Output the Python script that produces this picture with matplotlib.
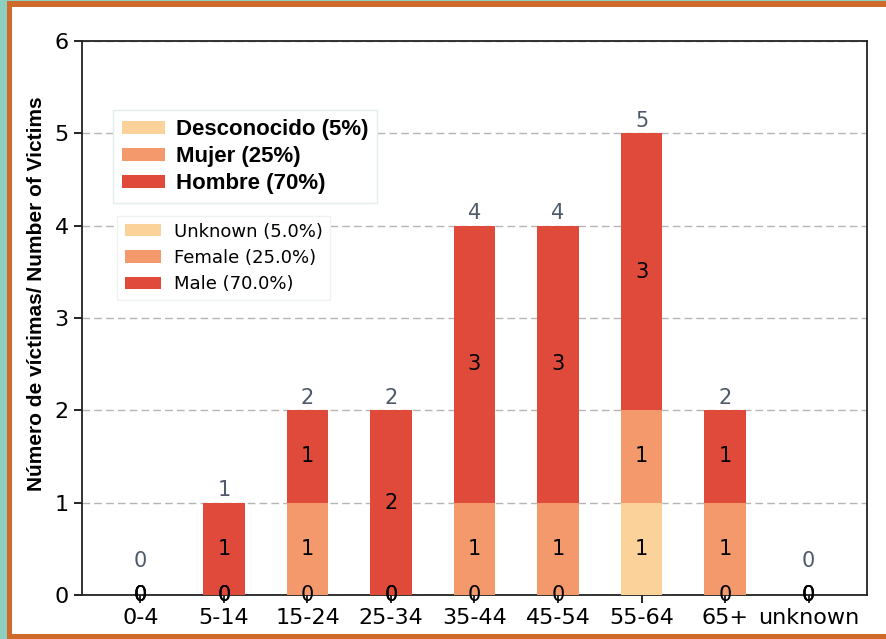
import numpy as np
import matplotlib.pyplot as plt
from matplotlib.patches import Rectangle

# Data
age_groups = ["0-4", "5-14", "15-24", "25-34", "35-44", "45-54", "55-64", "65+", "unknown"]
unknown = [0, 0, 0, 0, 0, 0, 1, 0, 0]
female = [0, 0, 1, 0, 1, 1, 1, 1, 0]
male = [0, 1, 1, 2, 3, 3, 3, 1, 0]

labels_es = ["Desconocido (5%)", "Mujer (25%)", "Hombre (70%)"]
labels_en = ["Unknown (5.0%)", "Female (25.0%)", "Male (70.0%)"]

COLORS = ["#fcd29b", "#f4996c", "#e04a3a"]

W, H = 887, 639
fig = plt.figure(figsize=(W / 100, H / 100), dpi=100, facecolor="#8dd0bf")

# orange frame + white card
fig.patches.append(Rectangle((7 / W, 0), 1, (H - 1) / H, transform=fig.transFigure,
                             facecolor="#cf6a2b", edgecolor="none", zorder=-2))
fig.patches.append(Rectangle((12.5 / W, 5 / H), 1, (H - 12) / H, transform=fig.transFigure,
                             facecolor="white", edgecolor="none", zorder=-1))

ax = fig.add_axes([82 / W, 1 - 595 / H, 785 / W, 554 / H])
ax.set_facecolor("white")

x = np.arange(len(age_groups))
unknown = np.array(unknown)
female = np.array(female)
male = np.array(male)
totals = unknown + female + male

b1 = ax.bar(x, unknown, width=0.5, color=COLORS[0], zorder=3)
b2 = ax.bar(x, female, width=0.5, bottom=unknown, color=COLORS[1], zorder=3)
b3 = ax.bar(x, male, width=0.5, bottom=unknown + female, color=COLORS[2], zorder=3)

for cont in (b1, b2, b3):
    ax.bar_label(cont, label_type="center", fontsize=15, color="black", zorder=4)

for xi, t in zip(x, totals):
    ax.annotate(str(t), (xi, t), xytext=(0, 2 if t else 17), textcoords="offset points",
                ha="center", va="bottom", fontsize=15, color="#4e5a6b", zorder=4)

ax.set_xlim(-0.7, len(age_groups) - 0.3)
ax.set_ylim(0, 6)
ax.set_xticks(x)
ax.set_xticklabels(age_groups)
ax.set_yticks(range(7))
ax.tick_params(axis="both", labelsize=16, length=6, width=1.2)
ax.yaxis.grid(True, linestyle=(0, (5.5, 3)), color="#b5b5b5", linewidth=1, zorder=0)
for s in ax.spines.values():
    s.set_linewidth(1.3)
    s.set_color("#222222")

ax.set_ylabel("Número de víctimas/ Number of Victims", fontsize=15, fontweight="bold",
              family="Liberation Sans")
ax.yaxis.set_label_coords(-0.046, 0.543)

# Spanish legend (bold)
leg1 = ax.legend([b1, b2, b3], labels_es, loc="upper left", bbox_to_anchor=(0.04, 0.875),
                 prop={"family": "Liberation Sans", "weight": "bold", "size": 16},
                 handlelength=1.9, handleheight=0.55, labelspacing=0.27, handletextpad=0.5,
                 frameon=True, fancybox=False, edgecolor="#e3efec", framealpha=1,
                 borderaxespad=0)
ax.add_artist(leg1)

# English legend
ax.legend([b1, b2, b3], labels_en, loc="upper left", bbox_to_anchor=(0.045, 0.685),
          fontsize=13, handlelength=2.0, handleheight=0.65, labelspacing=0.45,
          handletextpad=0.75, frameon=True, fancybox=False, edgecolor="#eef3f2",
          framealpha=1, borderaxespad=0)

fig.savefig("out.png", dpi=100, facecolor=fig.get_facecolor())
